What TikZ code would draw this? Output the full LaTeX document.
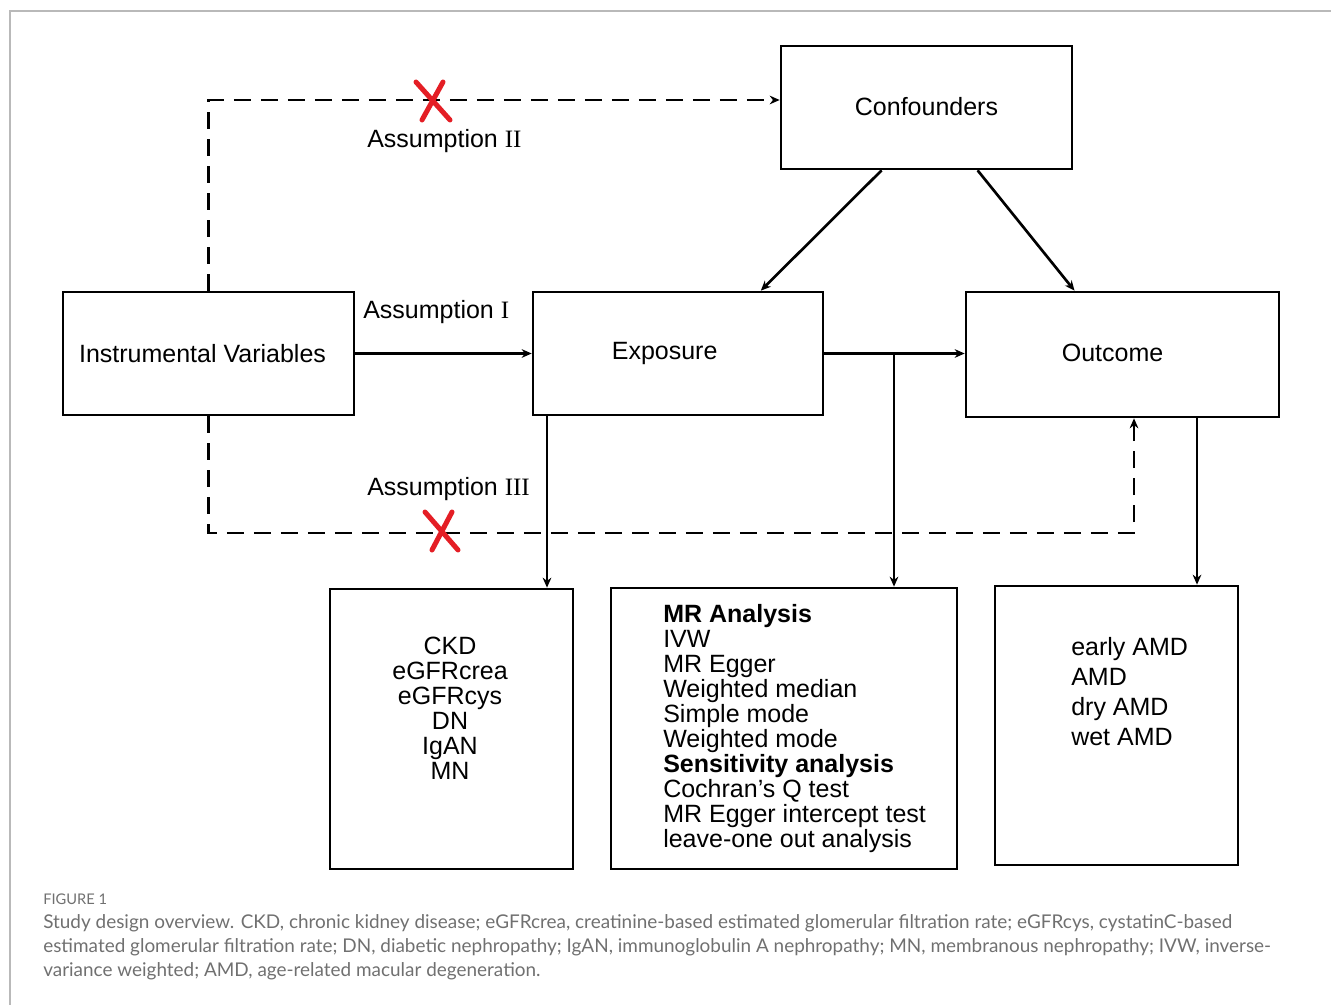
\documentclass[tikz,border=0pt]{standalone}
\usepackage{fontspec}
\setmainfont{Liberation Sans}
\newfontfamily\romanfont{Liberation Serif}
\newfontfamily\captionfont{Lato}
\usetikzlibrary{arrows.meta,calc}

\definecolor{crossred}{RGB}{228,30,37}
\definecolor{framegrey}{RGB}{185,185,185}
\definecolor{captiongrey}{RGB}{112,112,112}

\tikzset{
  box/.style={draw, line width=2pt, inner sep=0pt, font=\fontsize{18.75}{18.75}\selectfont},
  listtext/.style={inner sep=0pt, font=\fontsize{18.75}{18.75}\selectfont},
  conn/.style={line width=2pt, -{Stealth[length=7.5pt,width=6.5pt]}},
  dashconn/.style={conn, dash pattern=on 12.75pt off 7.5pt},
  crossmark/.style={draw=crossred, line width=3.75pt, line cap=round},
}

\begin{document}
\begin{tikzpicture}[x=0.75pt,y=0.75pt,yscale=-1,xscale=1]
\useasboundingbox (0,0) rectangle (1331,1005);

%Shape: Frame
\draw [framegrey, line width=1.5pt] (10,1005) -- (10,11) -- (1331,11) ;

%Shape: Boxes
\node [box, minimum width=218.25pt, minimum height=92.25pt] (conf) at (926.5,107.5) {\raisebox{2.25pt}{Confounders}};
\node [box, minimum width=218.25pt, minimum height=92.25pt] (iv) at (208.5,353.5) {\hspace*{-9pt}Instrumental Variables};
\node [box, minimum width=217.5pt, minimum height=92.25pt] (expo) at (678,353.5) {\hspace*{-20pt}Exposure};
\node [box, minimum width=234.75pt, minimum height=93.75pt] (outc) at (1122.5,354.5) {\hspace*{-15pt}\raisebox{2.25pt}{Outcome}};
\node [box, minimum width=182.25pt, minimum height=210pt] (ckd) at (451.5,729) {};
\node [box, minimum width=259.5pt, minimum height=210.75pt] (mr) at (784,728.5) {};
\node [box, minimum width=182.25pt, minimum height=209.25pt] (amd) at (1116.5,725.5) {};

% Text Node
\node [listtext, align=center] (ckdlist) at (450,708) {CKD\\eGFRcrea\\eGFRcys\\DN\\IgAN\\MN};
% Text Node
\node [listtext, align=left, anchor=west] (mrlist) at (663,729) {\textbf{MR Analysis}\\IVW\\MR Egger\\Weighted median\\Simple mode\\Weighted mode\\\textbf{Sensitivity analysis}\\Cochran’s Q test\\MR Egger intercept test\\leave-one out analysis};
% Text Node
\node [listtext, align=left, anchor=west, font=\fontsize{18.75}{22.5}\selectfont] (amdlist) at (1071,692) {early AMD\\AMD\\dry AMD\\wet AMD};

% Text Node
\node [listtext, anchor=west] (asmone) at (363,312) {Assumption {\romanfont I}};
% Text Node
\node [listtext, anchor=west] (asmtwo) at (367,141) {Assumption {\romanfont II}};
% Text Node
\node [listtext, anchor=west] (asmthree) at (367,489) {Assumption {\romanfont III}};

%Straight Lines
\draw [conn] (iv) -- (expo) ;
\draw [conn] (expo.east) -- (expo.east -| outc.west) ;
\coordinate (split) at (894,353.5) ;
\draw [conn] (split) -- (split |- mr.north) ;
\coordinate (ckddrop) at (547,0) ;
\draw [conn] (expo.south -| ckddrop) -- (ckd.north -| ckddrop) ;
\coordinate (amddrop) at (1197,0) ;
\draw [conn] (outc.south -| amddrop) -- (amd.north -| amddrop) ;
\draw [conn] ($(conf.south west)!0.347!(conf.south east)$) -- ($(expo.north west)!0.783!(expo.north east)$) ;
\draw [conn] ($(conf.south west)!0.674!(conf.south east)$) -- ($(outc.north west)!0.348!(outc.north east)$) ;

%Dashed Lines
\coordinate (toprun) at (0,100) ;
\draw [dashconn] (iv.north) -- (iv.north |- toprun) -- (conf.west |- toprun) ;
\coordinate (lowturn) at (1134,533) ;
\draw [dashconn] (iv.south) |- (lowturn) -- (lowturn |- outc.south) ;

%Shape: Crosses
\draw [crossmark] (416,82) -- (450,120) (443,82) -- (422,120) ;
\draw [crossmark] (425,512) -- (458,550) (452,512) -- (432,550) ;

% Caption
\node [anchor=west, inner sep=0pt, text=captiongrey, font=\captionfont\fontsize{11}{12}\selectfont] (figlabel) at (43,899) {FIGURE 1};
\node [anchor=north west, inner sep=0pt, align=left, text=captiongrey, font=\captionfont\fontsize{14.2}{18}\selectfont] (caption) at (43,914) {Study design overview. CKD, chronic kidney disease; eGFRcrea, creatinine-based estimated glomerular filtration rate; eGFRcys, cystatinC-based\\estimated glomerular filtration rate; DN, diabetic nephropathy; IgAN, immunoglobulin A nephropathy; MN, membranous nephropathy; IVW, inverse-\\variance weighted; AMD, age-related macular degeneration.};

\end{tikzpicture}
\end{document}
